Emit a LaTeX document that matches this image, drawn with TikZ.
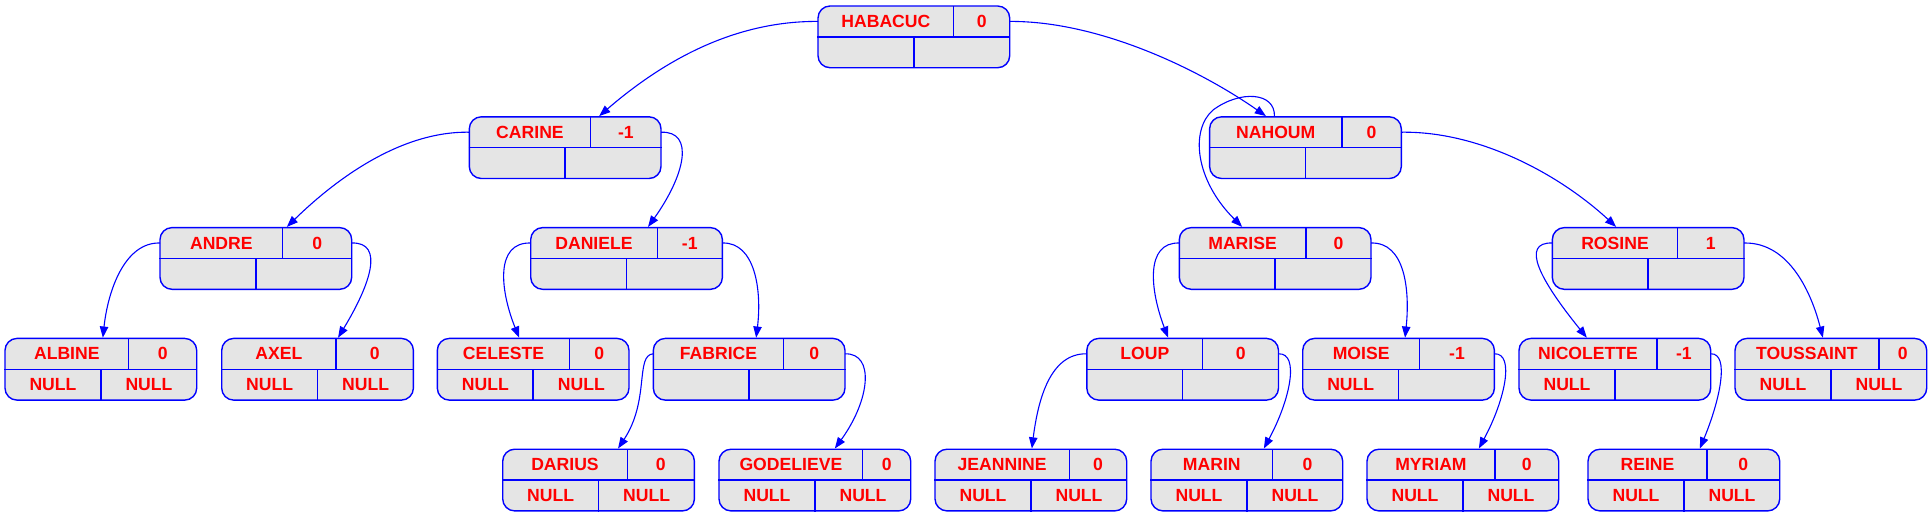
\documentclass[tikz,border=0pt]{standalone}
\usepackage{fontspec}
\setmainfont{Liberation Sans}
\usetikzlibrary{arrows.meta,calc}

\definecolor{cellgray}{gray}{0.9}

% record: name, left, top, key, balance, split, left son, right son
\newcommand{\avlnode}[8]{
	\node[rec] (#1) at (#2+95.85,#3+30.85) {};
	\coordinate (#1-w) at (#2,#3+15.4);
	\coordinate (#1-e) at (#2+191.7,#3+15.4);
	\draw[sep] (#1.west) -- (#1.east);
	\draw[sep] (#1.center) -- (#1.south);
	\draw[sep] (#2+#6*191.7,#3) -- (#2+#6*191.7,#3+30.85);
	\node[txt] (#1-key) at (#2+#6*95.85,#3+15.4) {#4};
	\node[txt] (#1-bal) at (#2+95.85+#6*95.85,#3+15.4) {#5};
	\node[txt] (#1-lt) at (#2+48,#3+46.3) {#7};
	\node[txt] (#1-rt) at (#2+144,#3+46.3) {#8};
}

\begin{document}
\begin{tikzpicture}[x=0.5pt,y=-0.5pt,
	rec/.style={draw=blue, fill=cellgray, line width=0.7pt, rounded corners=6pt,
		minimum width=95.85pt, minimum height=30.85pt, inner sep=0pt},
	sep/.style={blue, line width=0.7pt},
	txt/.style={text=red, font=\fontsize{8.8}{10}\selectfont\bfseries, inner sep=0pt},
	son/.style={blue, line width=0.55pt, -{Triangle[length=5.6pt,width=4.2pt]}}]
	\useasboundingbox (0,0) rectangle (1932,516);

	% Draw nodes
	\avlnode{habacuc}{818}{6}{HABACUC}{0}{0.708}{}{}
	\avlnode{carine}{469.3}{116.8}{CARINE}{-1}{0.633}{}{}
	\avlnode{nahoum}{1209.6}{116.8}{NAHOUM}{0}{0.69}{}{}
	\avlnode{andre}{160}{227.6}{ANDRE}{0}{0.64}{}{}
	\avlnode{daniele}{530.7}{227.6}{DANIELE}{-1}{0.66}{}{}
	\avlnode{marise}{1179.3}{227.6}{MARISE}{0}{0.66}{}{}
	\avlnode{rosine}{1552.3}{227.6}{ROSINE}{1}{0.654}{}{}
	\avlnode{albine}{5}{338.4}{ALBINE}{0}{0.645}{NULL}{NULL}
	\avlnode{axel}{221.7}{338.4}{AXEL}{0}{0.597}{NULL}{NULL}
	\avlnode{celeste}{437.3}{338.4}{CELESTE}{0}{0.69}{NULL}{NULL}
	\avlnode{fabrice}{653.3}{338.4}{FABRICE}{0}{0.68}{}{}
	\avlnode{loup}{1086.8}{338.4}{LOUP}{0}{0.605}{}{}
	\avlnode{moise}{1302.7}{338.4}{MOISE}{-1}{0.61}{NULL}{}
	\avlnode{nicolette}{1519}{338.4}{NICOLETTE}{-1}{0.72}{NULL}{}
	\avlnode{toussaint}{1735}{338.4}{TOUSSAINT}{0}{0.75}{NULL}{NULL}
	\avlnode{darius}{502.7}{449.2}{DARIUS}{0}{0.65}{NULL}{NULL}
	\avlnode{godelieve}{719}{449.2}{GODELIEVE}{0}{0.75}{NULL}{NULL}
	\avlnode{jeannine}{935}{449.2}{JEANNINE}{0}{0.70}{NULL}{NULL}
	\avlnode{marin}{1151}{449.2}{MARIN}{0}{0.634}{NULL}{NULL}
	\avlnode{myriam}{1367}{449.2}{MYRIAM}{0}{0.667}{NULL}{NULL}
	\avlnode{reine}{1588}{449.2}{REINE}{0}{0.62}{NULL}{NULL}

	% Draw edges
	\draw[son] (habacuc-w) .. controls (740,21) and (670,55) .. ($(carine.north)+(34,0)$);
	\draw[son] (habacuc-e) .. controls (1100,21) and (1200,70) .. ($(nahoum.north)+(-39.5,0)$);
	\draw[son] ($(nahoum.north)+(-31,0)$) .. controls (1275,92) and (1240,90) .. (1213,110)
		.. controls (1190,130) and (1195,180) .. ($(marise.north)+(-33,0)$);
	\draw[son] (nahoum-e) .. controls (1480,131) and (1560,175) .. ($(rosine.north)+(-32,0)$);
	\draw[son] (carine-w) .. controls (400,131) and (335,180) .. ($(andre.north)+(31,0)$);
	\draw[son] (carine-e) .. controls (695,131) and (685,175) .. ($(daniele.north)+(21.5,0)$);
	\draw[son] (andre-w) .. controls (125,242) and (108,290) .. ($(albine.north)+(2,0)$);
	\draw[son] (andre-e) .. controls (385,242) and (370,285) .. ($(axel.north)+(20.5,0)$);
	\draw[son] (daniele-w) .. controls (495,242) and (500,290) .. ($(celeste.north)+(-14,0)$);
	\draw[son] (daniele-e) .. controls (755,242) and (762,290) .. ($(fabrice.north)+(7,0)$);
	\draw[son] (fabrice-w) .. controls (635,355) and (650,400) .. ($(darius.north)+(19.5,0)$);
	\draw[son] (fabrice-e) .. controls (875,353) and (870,400) .. ($(godelieve.north)+(20,0)$);
	\draw[son] (marise-w) .. controls (1145,242) and (1150,290) .. ($(loup.north)+(-14.5,0)$);
	\draw[son] (marise-e) .. controls (1405,242) and (1410,290) .. ($(moise.north)+(6.5,0)$);
	\draw[son] (loup-w) .. controls (1050,353) and (1038,400) .. ($(jeannine.north)+(1,0)$);
	\draw[son] (loup-e) .. controls (1300,353) and (1290,400) .. ($(marin.north)+(17,0)$);
	\draw[son] (moise-e) .. controls (1515,353) and (1505,400) .. ($(myriam.north)+(16,0)$);
	\draw[son] (rosine-w) .. controls (1520,242) and (1540,280) .. ($(nicolette.north)+(-28,0)$);
	\draw[son] (rosine-e) .. controls (1790,242) and (1812,295) .. ($(toussaint.north)+(-8,0)$);
	\draw[son] (nicolette-e) .. controls (1730,353) and (1720,400) .. ($(reine.north)+(16,0)$);
\end{tikzpicture}
\end{document}
